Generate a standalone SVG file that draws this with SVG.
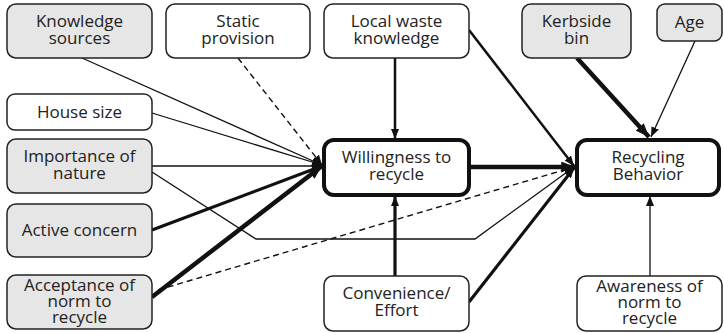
<svg xmlns="http://www.w3.org/2000/svg" width="724" height="333" viewBox="0 0 724 333">
  <defs>
    <marker id="arrow" viewBox="0 0 10 8" refX="10" refY="4" markerWidth="10" markerHeight="8" markerUnits="userSpaceOnUse" orient="auto">
      <path d="M0,0 L10,4 L0,8 z" fill="#111"/>
    </marker>
    <marker id="arrow-big" viewBox="0 0 10 8" refX="10" refY="4" markerWidth="14" markerHeight="11" markerUnits="userSpaceOnUse" orient="auto">
      <path d="M0,0 L10,4 L0,8 z" fill="#111"/>
    </marker>
    <style>
      .box { fill: #ffffff; stroke: #222; stroke-width: 1.5; }
      .grey { fill: #e6e6e6; }
      .main { fill: #ffffff; stroke: #111; stroke-width: 4; }
      text { font-family: "Open Sans", "Liberation Sans", sans-serif; font-size: 17px; fill: #222; text-anchor: middle; }
      .edge { fill: none; stroke: #111; marker-end: url(#arrow); }
      .thin { stroke-width: 1.3; }
      .mid { stroke-width: 2.5; }
      .thick { stroke-width: 3.2; }
      .heavy { stroke-width: 4.5; marker-end: url(#arrow-big); }
      .dashed { stroke-dasharray: 6 4; stroke-width: 1.4; }
    </style>
  </defs>

  <!-- connectors -->
  <g id="connectors">
    <path class="edge thin" d="M82,58 L322,165"/>
    <path class="edge dashed" d="M238,58 L322,165"/>
    <path class="edge thin" d="M152,113 L322,165"/>
    <path class="edge thin" d="M152,166 L322,166"/>
    <path class="edge thick" d="M152,230 L322,166"/>
    <path class="edge heavy" d="M152,297 L322,166"/>
    <path class="edge thin" d="M152,172 L256,239 L475,239 L574,167"/>
    <path class="edge dashed" d="M158,290 L574,167"/>
    <path class="edge mid" d="M395,58 L395,139"/>
    <path class="edge mid" d="M469,30 L574,166"/>
    <path class="edge heavy" stroke-width="5" d="M470,167 L575,167"/>
    <path class="edge heavy" d="M577,58 L649,137"/>
    <path class="edge thin" d="M695,41 L651,137"/>
    <path class="edge thick" d="M395,276 L395,196"/>
    <path class="edge thick" d="M469,302 L574,168"/>
    <path class="edge thin" d="M650,276 L650,196"/>
  </g>

  <g id="knowledge-sources">
    <rect class="box grey" x="7" y="4" width="145" height="54" rx="9"/>
    <text x="79.5" y="27">Knowledge<tspan x="79.5" dy="17">sources</tspan></text>
  </g>
  <g id="static-provision">
    <rect class="box" x="166" y="4" width="144" height="54" rx="9"/>
    <text x="238" y="27">Static<tspan x="238" dy="17">provision</tspan></text>
  </g>
  <g id="local-waste-knowledge">
    <rect class="box" x="324" y="4" width="145" height="54" rx="9"/>
    <text x="396.5" y="27">Local waste<tspan x="396.5" dy="17">knowledge</tspan></text>
  </g>
  <g id="kerbside-bin">
    <rect class="box grey" x="522" y="4" width="109" height="54" rx="9"/>
    <text x="576.5" y="27">Kerbside<tspan x="576.5" dy="17">bin</tspan></text>
  </g>
  <g id="age">
    <rect class="box grey" x="657" y="4" width="65" height="37" rx="8"/>
    <text x="689.5" y="28">Age</text>
  </g>
  <g id="house-size">
    <rect class="box" x="7" y="94" width="145" height="36" rx="8"/>
    <text x="79.5" y="118">House size</text>
  </g>
  <g id="importance-of-nature">
    <rect class="box grey" x="7" y="139" width="145" height="54" rx="9"/>
    <text x="79.5" y="162">Importance of<tspan x="79.5" dy="17">nature</tspan></text>
  </g>
  <g id="active-concern">
    <rect class="box grey" x="7" y="204" width="145" height="53" rx="9"/>
    <text x="79.5" y="236">Active concern</text>
  </g>
  <g id="acceptance-of-norm">
    <rect class="box grey" x="7" y="275" width="145" height="54" rx="9"/>
    <text x="79.5" y="291">Acceptance of<tspan x="79.5" dy="16">norm to</tspan><tspan x="79.5" dy="16">recycle</tspan></text>
  </g>
  <g id="willingness-to-recycle">
    <rect class="main" x="324" y="140" width="145" height="55" rx="10"/>
    <text x="396.5" y="163">Willingness to<tspan x="396.5" dy="17">recycle</tspan></text>
  </g>
  <g id="recycling-behavior">
    <rect class="main" x="577" y="140" width="142" height="55" rx="10"/>
    <text x="648" y="163">Recycling<tspan x="648" dy="17">Behavior</tspan></text>
  </g>
  <g id="convenience-effort">
    <rect class="box" x="324" y="276" width="145" height="55" rx="9"/>
    <text x="396.5" y="299">Convenience/<tspan x="396.5" dy="17">Effort</tspan></text>
  </g>
  <g id="awareness-of-norm">
    <rect class="box" x="577" y="276" width="145" height="55" rx="9"/>
    <text x="649.5" y="292">Awareness of<tspan x="649.5" dy="16">norm to</tspan><tspan x="649.5" dy="16">recycle</tspan></text>
  </g>
</svg>
